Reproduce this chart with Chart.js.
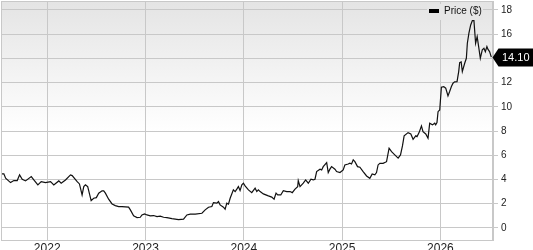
<!DOCTYPE html>
<html><head><meta charset="utf-8">
<script src="https://cdn.jsdelivr.net/npm/chart.js@4/dist/chart.umd.min.js"></script>
<style>html,body{margin:0;padding:0;background:#fff}#wrap{width:533px;height:250px;position:relative}</style>
</head><body><div id="wrap"><canvas id="c"></canvas></div>
<script>
const years = [2021.536,2021.559,2021.577,2021.627,2021.661,2021.695,2021.719,2021.746,2021.780,2021.838,2021.864,2021.905,2021.939,2021.983,
2022.034,2022.067,2022.118,2022.142,2022.186,2022.237,2022.254,2022.305,2022.328,2022.355,2022.372,2022.389,2022.412,2022.447,2022.473,2022.500,
2022.524,2022.558,2022.575,2022.592,2022.625,2022.660,2022.693,2022.727,2022.761,2022.828,2022.846,2022.879,2022.914,2022.947,2022.964,2022.991,
2023.015,2023.049,2023.082,2023.117,2023.150,2023.184,2023.218,2023.269,2023.336,2023.387,2023.421,2023.455,2023.506,2023.574,2023.607,2023.641,2023.675,
2023.691,2023.726,2023.742,2023.759,2023.793,2023.810,2023.827,2023.844,2023.861,2023.894,2023.912,2023.929,2023.945,2023.962,2023.980,2023.996,2024.013,
2024.047,2024.081,2024.115,2024.132,2024.148,2024.166,2024.199,2024.250,2024.284,2024.308,2024.328,2024.345,2024.376,2024.402,2024.437,2024.470,
2024.493,2024.521,2024.548,2024.554,2024.572,2024.605,2024.629,2024.656,2024.683,2024.707,2024.724,2024.741,2024.775,2024.792,2024.808,2024.843,2024.859,2024.876,2024.893,2024.927,2024.944,2024.978,
2025.011,2025.028,2025.062,2025.079,2025.096,2025.113,2025.130,2025.157,2025.181,2025.214,2025.249,2025.282,2025.306,2025.333,2025.350,2025.366,2025.384,2025.417,2025.452,
2025.478,2025.503,2025.536,2025.570,2025.594,2025.614,2025.631,2025.671,2025.699,2025.722,2025.749,2025.762,2025.783,2025.807,2025.823,2025.851,2025.874,2025.891,2025.919,2025.942,2025.952,2025.965,2025.976,2025.993,
2026.010,2026.034,2026.054,2026.077,2026.094,2026.112,2026.128,2026.145,2026.169,2026.186,2026.196,2026.211,2026.223,2026.247,2026.264,2026.274,2026.290,2026.308,2026.325,2026.341,2026.358,2026.374,2026.389,2026.406,2026.426,2026.443,2026.457,2026.473,2026.483,2026.500,2026.518];

const prices = [4.46,4.46,4.10,3.74,3.91,3.91,4.38,4.02,3.88,4.24,3.96,3.55,3.82,3.74,
3.82,3.55,3.88,3.69,3.96,4.38,4.32,3.82,3.63,2.72,3.41,3.55,3.41,2.25,2.45,2.50,
2.87,3.06,3.06,2.87,2.37,1.98,1.84,1.76,1.76,1.71,1.49,0.99,0.85,0.88,1.07,1.16,
1.07,0.99,1.02,0.93,0.97,0.88,0.85,0.77,0.69,0.72,1.07,1.13,1.13,1.21,1.49,1.71,1.76,
2.09,2.04,2.17,1.90,1.71,1.54,2.04,1.96,2.45,3.14,3.00,3.20,3.41,3.08,3.55,3.69,3.47,
3.14,2.91,3.28,3.00,3.14,3.00,2.81,2.64,2.54,2.37,2.87,2.72,2.72,3.08,3.00,3.00,
2.91,3.20,3.41,3.91,3.41,3.69,3.96,3.69,4.02,3.96,4.02,4.65,4.85,4.79,5.06,5.39,4.57,4.85,5.06,4.85,4.65,4.57,
4.79,5.20,5.28,5.34,5.28,5.62,5.47,5.06,5.01,4.65,4.29,4.10,4.46,4.38,4.57,5.20,5.34,5.33,5.47,
6.58,6.30,6.03,5.76,6.03,6.77,7.60,7.87,7.76,7.32,7.60,7.54,7.87,8.42,7.95,7.76,7.41,8.65,8.51,8.65,8.51,8.70,9.60,9.74,
11.62,11.67,11.54,10.90,11.26,11.67,11.95,12.06,12.08,12.91,13.65,13.71,12.91,13.60,14.01,15.25,16.08,16.76,17.12,17.13,15.25,15.80,14.97,14.01,14.70,14.84,14.56,14.97,14.76,14.56,14.10];

const yearTicks = [2022, 2023, 2024, 2025, 2026];
const priceTicks = [0, 2, 4, 6, 8, 10, 12, 14, 16, 18];
const seriesLabel = 'Price ($)';

const GRID = '#c8c8c8';
const FONT = '"Liberation Sans", Arial, sans-serif';

const bgPlugin = {
  id: 'bg',
  beforeDraw(chart) {
    const {ctx, chartArea: a} = chart;
    const g = ctx.createLinearGradient(0, a.top, 0, a.bottom);
    g.addColorStop(0, '#e4e4e4');
    g.addColorStop(0.55, '#ffffff');
    g.addColorStop(1, '#ffffff');
    ctx.save();
    ctx.fillStyle = g;
    ctx.fillRect(a.left, a.top, a.right - a.left, a.bottom - a.top);
    ctx.restore();
  },
  afterDatasetsDraw(chart) {
    const {ctx, chartArea: a} = chart;
    ctx.save();
    ctx.strokeStyle = GRID; ctx.lineWidth = 1;
    ctx.strokeRect(a.left + 0.5, a.top + 0.5, a.right - a.left - 1, a.bottom - a.top);
    // legend
    ctx.fillStyle = '#e6e6e6';
    ctx.fillRect(427, 4, 56, 16);
    ctx.fillStyle = '#000';
    ctx.fillRect(429, 9, 10, 4);
    ctx.font = '10px ' + FONT;
    ctx.textBaseline = 'middle';
    ctx.textAlign = 'left';
    ctx.fillStyle = '#111';
    ctx.fillText(seriesLabel, 444, 11.5);
    ctx.restore();
  },
  afterDraw(chart) {
    const {ctx} = chart;
    const ys = chart.scales.y;
    const last = prices[prices.length - 1];
    const py = Math.round(ys.getPixelForValue(last)) + 0.5;
    const x0 = ys.left;
    ctx.save();
    ctx.fillStyle = '#000';
    ctx.beginPath();
    ctx.moveTo(x0 - 0.5, py);
    ctx.lineTo(x0 + 5.5, py - 9);
    ctx.lineTo(533, py - 9);
    ctx.lineTo(533, py + 9);
    ctx.lineTo(x0 + 5.5, py + 9);
    ctx.closePath();
    ctx.fill();
    ctx.fillStyle = '#fff';
    ctx.font = '11px ' + FONT;
    ctx.textBaseline = 'middle';
    ctx.textAlign = 'left';
    ctx.fillText(last.toFixed(2), x0 + 9, py + 0.5);
    ctx.restore();
  }
};

new Chart(document.getElementById('c'), {
  type: 'line',
  data: {
    datasets: [{
      label: seriesLabel,
      data: years.map((y, i) => ({x: y, y: prices[i]})),
      borderColor: '#111',
      borderWidth: 1.2,
      pointRadius: 0,
      tension: 0,
      fill: false
    }]
  },
  options: {
    responsive: true,
    maintainAspectRatio: false,
    animation: false,
    layout: {padding: {top: 1, left: 1, right: 0, bottom: 0}},
    plugins: {legend: {display: false}, tooltip: {enabled: false}},
    scales: {
      x: {
        type: 'linear',
        min: 2021.53,
        max: 2026.535,
        afterBuildTicks(s) { s.ticks = yearTicks.map(v => ({value: v})); },
        afterFit(s) { s.height = 10; s.paddingLeft = 0; s.paddingRight = 0; },
        grid: {color: GRID, lineWidth: 1, drawTicks: false},
        border: {display: true, color: GRID},
        ticks: {
          padding: 1, maxRotation: 0, autoSkip: false,
          color: '#222', font: {family: FONT, size: 12},
          callback: v => String(v)
        }
      },
      y: {
        type: 'linear',
        position: 'right',
        min: -1,
        max: 18.74,
        afterBuildTicks(s) { s.ticks = priceTicks.map(v => ({value: v})); },
        afterFit(s) { s.width = 40; s.paddingTop = 0; s.paddingBottom = 0; },
        grid: {color: GRID, lineWidth: 1, drawTicks: true, tickLength: 5},
        border: {display: true, color: GRID},
        ticks: {
          padding: 3, color: '#222', font: {family: FONT, size: 10},
          callback: v => String(v)
        }
      }
    }
  },
  plugins: [bgPlugin]
});
</script>
</body></html>
